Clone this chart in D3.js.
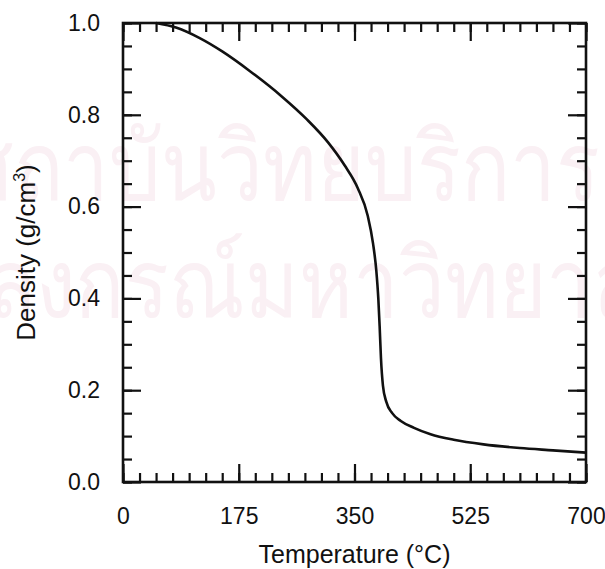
<!DOCTYPE html>
<html>
<head>
<meta charset="utf-8">
<script src="https://cdn.jsdelivr.net/npm/d3@7"></script>
<style>
  body { margin: 0; background: #fff; }
  text { font-family: 'Liberation Sans', Arial, sans-serif; fill: #111; }
</style>
</head>
<body>
<div class="chart"></div>
<script>
// curve (temperature in °C, density in g/cm3)
const temps = [50, 80, 116, 150, 192, 240, 278, 310, 335, 355, 370, 378, 383, 386, 388, 390, 393, 398, 407, 420, 440, 465, 500, 545, 600, 650, 700];
const density = [1.0, 0.99, 0.967, 0.938, 0.895, 0.84, 0.79, 0.74, 0.69, 0.64, 0.58, 0.52, 0.46, 0.40, 0.34, 0.27, 0.21, 0.175, 0.15, 0.133, 0.118, 0.104, 0.092, 0.082, 0.074, 0.069, 0.064];

const xTicks = [0, 175, 350, 525, 700];
const yTicks = [0.0, 0.2, 0.4, 0.6, 0.8, 1.0];
const xMinor = d3.range(0, 701, 25);
const yMinor = d3.range(0, 1.001, 0.05);

const watermark = ['สถาบันวิทยบริการ', 'จุฬาลงกรณ์มหาวิทยาลัย'];

const width = 605;
const height = 569;
const margin = { top: 23, right: 19, bottom: 87, left: 123 };

const svg = d3.select('.chart')
  .append('svg')
  .attr('width', width)
  .attr('height', height);

// faint watermark behind the plot
const wm = svg.append('g').style('font-family', "'Noto Sans Thai', 'Noto Sans', sans-serif");
wm.append('text')
  .attr('transform', 'translate(600,200) scale(0.85,1)')
  .attr('text-anchor', 'end')
  .attr('font-size', 96)
  .style('fill', '#faf0f4')
  .text(watermark[0]);
wm.append('text')
  .attr('transform', 'translate(690,317) scale(0.85,1)')
  .attr('text-anchor', 'end')
  .attr('font-size', 96)
  .style('fill', '#faf0f4')
  .text(watermark[1]);

const x = d3.scaleLinear().domain([0, 700]).range([margin.left, width - margin.right]);
const y = d3.scaleLinear().domain([0, 1]).range([height - margin.bottom, margin.top]);

const x0 = x.range()[0], x1 = x.range()[1];
const y0 = y.range()[0], y1 = y.range()[1];

const majorLen = 18;
const minorLen = 9;

function styleAxis(g) {
  g.select('.domain').remove();
  g.selectAll('.tick line').attr('stroke', '#111').attr('stroke-width', 2.2);
  g.selectAll('.tick text').attr('font-size', 23).attr('fill', '#111');
}

// bottom
svg.append('g').attr('transform', `translate(0,${y0})`)
  .call(d3.axisBottom(x).tickValues(xMinor).tickSize(-minorLen).tickFormat(''))
  .call(styleAxis);
svg.append('g').attr('transform', `translate(0,${y0})`)
  .call(d3.axisBottom(x).tickValues(xTicks).tickSize(-majorLen).tickPadding(26).tickFormat(d3.format('d')))
  .call(styleAxis);
// top
svg.append('g').attr('transform', `translate(0,${y1})`)
  .call(d3.axisTop(x).tickValues(xMinor).tickSize(-minorLen).tickFormat(''))
  .call(styleAxis);
svg.append('g').attr('transform', `translate(0,${y1})`)
  .call(d3.axisTop(x).tickValues(xTicks).tickSize(-majorLen).tickFormat(''))
  .call(styleAxis);
// left
svg.append('g').attr('transform', `translate(${x0},0)`)
  .call(d3.axisLeft(y).tickValues(yMinor).tickSize(-minorLen).tickFormat(''))
  .call(styleAxis);
svg.append('g').attr('transform', `translate(${x0},0)`)
  .call(d3.axisLeft(y).tickValues(yTicks).tickSize(-majorLen).tickPadding(23).tickFormat(d3.format('.1f')))
  .call(styleAxis);
// right
svg.append('g').attr('transform', `translate(${x1},0)`)
  .call(d3.axisRight(y).tickValues(yMinor).tickSize(-minorLen).tickFormat(''))
  .call(styleAxis);
svg.append('g').attr('transform', `translate(${x1},0)`)
  .call(d3.axisRight(y).tickValues(yTicks).tickSize(-majorLen).tickFormat(''))
  .call(styleAxis);

// frame
svg.append('rect')
  .attr('x', x0).attr('y', y1)
  .attr('width', x1 - x0).attr('height', y0 - y1)
  .attr('fill', 'none').attr('stroke', '#111').attr('stroke-width', 2.6);

// curve
const line = d3.line()
  .x((d, i) => x(temps[i]))
  .y((d) => y(d))
  .curve(d3.curveMonotoneX);

svg.append('path')
  .datum(density)
  .attr('d', line)
  .attr('fill', 'none')
  .attr('stroke', '#111')
  .attr('stroke-width', 2.6);

// axis titles
svg.append('text')
  .attr('x', (x0 + x1) / 2)
  .attr('y', 563)
  .attr('text-anchor', 'middle')
  .attr('font-size', 25)
  .text('Temperature (°C)');

const yt = svg.append('text')
  .attr('transform', `translate(35,${(y0 + y1) / 2}) rotate(-90)`)
  .attr('text-anchor', 'middle')
  .attr('font-size', 26);
yt.append('tspan').text('Density (g/cm');
yt.append('tspan').attr('font-size', 16).attr('dy', -10).text('3');
yt.append('tspan').attr('dy', 10).text(')');
</script>
</body>
</html>
